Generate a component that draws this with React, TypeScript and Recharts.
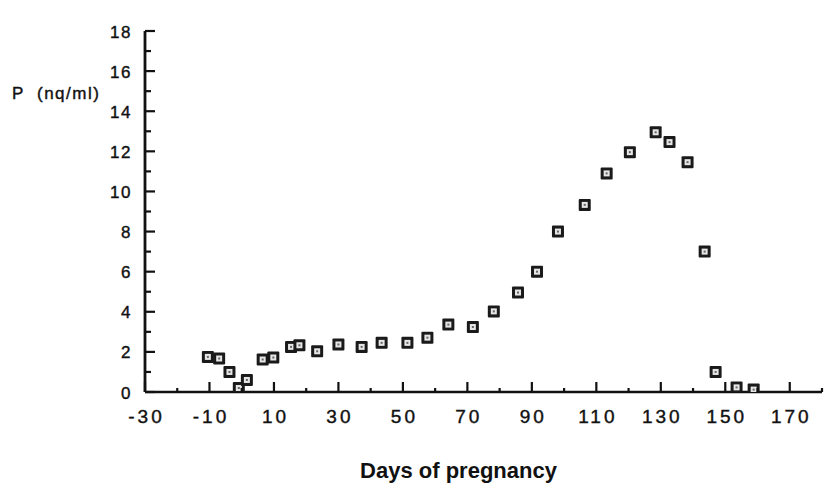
import React from 'react';
import { ScatterChart, Scatter, XAxis, YAxis } from 'recharts';

const days = [-10.5, -7.0, -3.8, -0.9, 1.6, 6.5, 9.8, 15.3, 17.9, 23.4, 30.0, 37.2, 43.4, 51.4, 57.6, 64.1, 71.7, 78.2, 85.7, 91.6, 98.1, 106.4, 113.2, 120.4, 128.4, 132.7, 138.3, 143.6, 147.0, 153.5, 158.8];
const progesterone = [1.75, 1.67, 1.0, 0.2, 0.6, 1.62, 1.72, 2.25, 2.33, 2.03, 2.37, 2.25, 2.45, 2.45, 2.71, 3.36, 3.24, 4.02, 4.96, 6.0, 8.0, 9.33, 10.9, 11.96, 12.95, 12.46, 11.46, 7.0, 1.0, 0.23, 0.12];

const xTicks = [-30, -20, -10, 0, 10, 20, 30, 40, 50, 60, 70, 80, 90, 100, 110, 120, 130, 140, 150, 160, 170, 180];
const xTickLabels = ['-30', '-10', '10', '30', '50', '70', '90', '110', '130', '150', '170'];
const yTicks = [0, 1, 2, 3, 4, 5, 6, 7, 8, 9, 10, 11, 12, 13, 14, 15, 16, 17, 18];
const yTickLabels = ['0', '2', '4', '6', '8', '10', '12', '14', '16', '18'];

const yAxisTitle = 'P';
const yAxisUnit = '(nq/ml)';
const xAxisTitle = 'Days of pregnancy';

const data = days.map((d, i) => ({ day: d, p: progesterone[i] }));

const INK = '#111';
const FONT = '"Liberation Sans", Arial, Helvetica, sans-serif';

const XTick = (props: any) => {
  const { x, y, payload } = props;
  const v = payload.value;
  const label = xTickLabels.find((l) => Number(l) === v);
  const major = label !== undefined;
  return (
    <g>
      <line x1={x} x2={x} y1={y} y2={y - (major ? 10 : 4)} stroke={INK} strokeWidth={2.2} />
      {major && (
        <text x={x + 1.5} y={y + 31} textAnchor="middle" fontSize={19} letterSpacing={3} fill={INK} stroke={INK} strokeWidth={0.4} fontFamily={FONT}>
          {label}
        </text>
      )}
    </g>
  );
};

const YTick = (props: any) => {
  const { x, y, payload } = props;
  const v = payload.value;
  const label = yTickLabels.find((l) => Number(l) === v);
  const major = label !== undefined;
  return (
    <g>
      <line x1={x} x2={x + (major ? 10 : 6)} y1={y} y2={y} stroke={INK} strokeWidth={2.2} />
      {major && (
        <text x={x - 13} y={y + 6.5} textAnchor="end" fontSize={17} letterSpacing={1.5} fill={INK} stroke={INK} strokeWidth={0.4} fontFamily={FONT}>
          {label}
        </text>
      )}
    </g>
  );
};

const Marker = (props: any) => {
  const { cx, cy } = props;
  return (
    <g>
      <rect x={cx - 6} y={cy - 6} width={12} height={12} fill="#1a1a1a" rx={1} />
      <rect x={cx - 3} y={cy - 3} width={6} height={6} fill="#e6e6e6" />
      <rect x={cx - 1} y={cy - 1} width={2} height={2} fill="#666" />
    </g>
  );
};

export default function App() {
  return (
    <div style={{ position: 'absolute', left: 0, top: 0, width: 829, height: 486, background: '#fff' }}>
      <ScatterChart width={829} height={486} margin={{ top: 31, right: 7, bottom: 0, left: 0 }}>
        <XAxis
          type="number"
          dataKey="day"
          domain={[-30, 180]}
          ticks={xTicks}
          interval={0}
          height={94}
          tickSize={0}
          tickMargin={0}
          tickLine={false}
          axisLine={{ stroke: INK, strokeWidth: 2.5 }}
          tick={<XTick />}
          allowDataOverflow
        />
        <YAxis
          type="number"
          dataKey="p"
          domain={[0, 18]}
          ticks={yTicks}
          interval={0}
          width={145}
          tickSize={0}
          tickMargin={0}
          tickLine={false}
          axisLine={{ stroke: INK, strokeWidth: 2.8 }}
          tick={<YTick />}
          allowDataOverflow
        />
        <Scatter data={data} shape={<Marker />} isAnimationActive={false} />
      </ScatterChart>
      <svg width={829} height={486} style={{ position: 'absolute', left: 0, top: 0, pointerEvents: 'none' }}>
        <text y={99} fontSize={17} fill={INK} stroke={INK} strokeWidth={0.4} fontFamily={FONT} letterSpacing={1.5}>
          <tspan x={12}>{yAxisTitle}</tspan>
          <tspan x={37}>{yAxisUnit}</tspan>
        </text>
        <text x={458.5} y={478} textAnchor="middle" fontSize={22} fontWeight="bold" fill={INK} fontFamily={FONT}>
          {xAxisTitle}
        </text>
      </svg>
    </div>
  );
}
